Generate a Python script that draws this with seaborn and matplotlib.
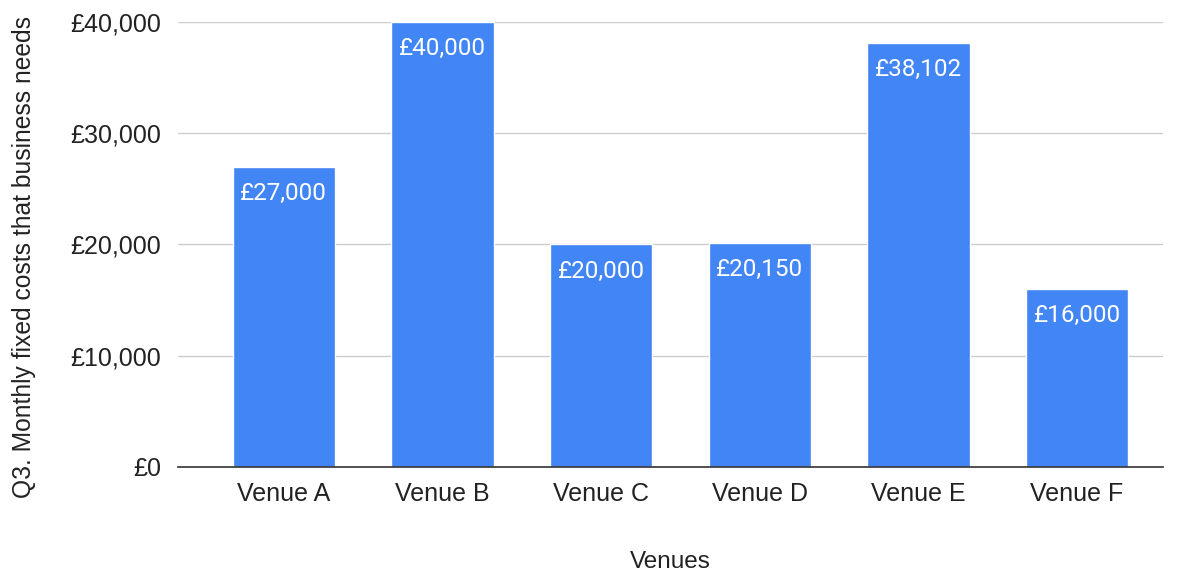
import matplotlib.pyplot as plt
import numpy as np
import pandas as pd
import seaborn as sns

venues = ["Venue A", "Venue B", "Venue C", "Venue D", "Venue E", "Venue F"]
costs = [27000, 40000, 20000, 20150, 38102, 16000]
y_ticks = [0, 10000, 20000, 30000, 40000]

df = pd.DataFrame({"venue": venues, "cost": costs})

sns.set_theme(style="white")
plt.rcParams["font.family"] = ["Liberation Sans", "DejaVu Sans"]

fig = plt.figure(figsize=(11.78, 5.73), dpi=100)
ax = fig.add_axes([0.151, 0.185, 0.836, 0.7766])

sns.barplot(data=df, x="venue", y="cost", color="#4285F4", saturation=1,
            width=0.645, ax=ax)

for i, v in enumerate(costs):
    ax.text(i, v - 2400, "£{:,}".format(v), ha="center", va="center",
            color="white", fontsize=17.5, family=["Roboto", "DejaVu Sans"])

ax.set_ylim(0, 40000)
ax.set_xlim(-0.668, 5.54)
ax.set_yticks(y_ticks)
ax.set_yticklabels(["£{:,}".format(t) for t in y_ticks])
ax.yaxis.grid(True, color="#cccccc", linewidth=1)
ax.set_axisbelow(True)
for s in ["top", "right", "left"]:
    ax.spines[s].set_visible(False)
ax.spines["bottom"].set_color("#333333")
ax.spines["bottom"].set_linewidth(1.2)
ax.tick_params(axis="both", length=0, labelsize=18, colors="#222222")
ax.tick_params(axis="x", pad=11)
ax.tick_params(axis="y", pad=12)

ax.set_xlabel("Venues", fontsize=17.5, color="#222222", labelpad=32)
ax.set_ylabel("Q3. Monthly fixed costs that business needs", fontsize=17.7,
              color="#222222")
ax.yaxis.set_label_coords(-0.156, 0.472)
ax.yaxis.label.set_verticalalignment("center")

fig.savefig("out.png", dpi=100)
